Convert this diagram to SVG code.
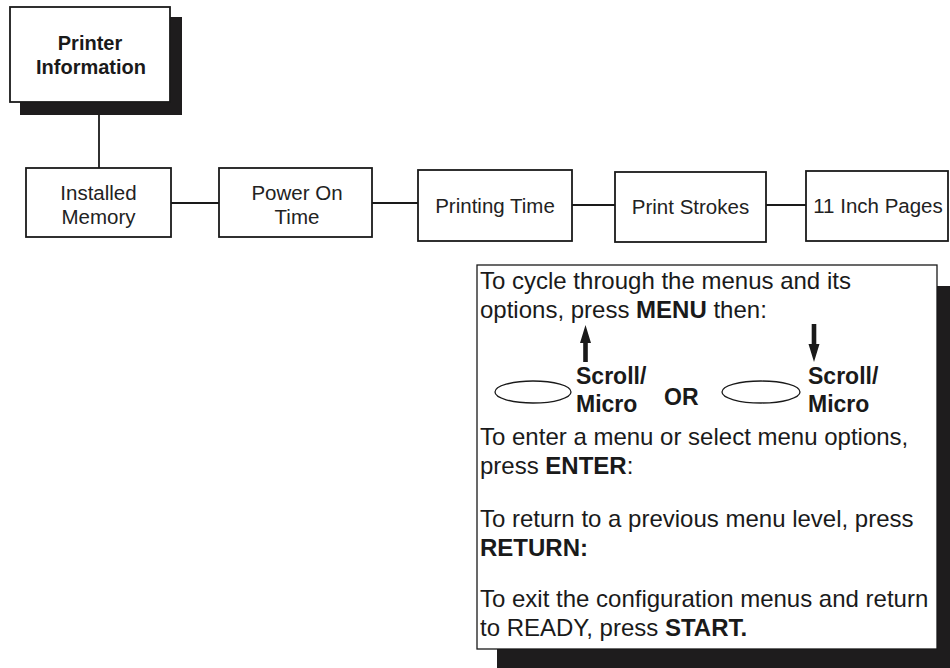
<svg xmlns="http://www.w3.org/2000/svg" width="950" height="668" viewBox="0 0 950 668">
<style>
.box{fill:#fff;stroke:#1a1a1a;stroke-width:1.8}
.shadow{fill:#1e1c1d}
.conn{stroke:#1a1a1a;stroke-width:1.8;fill:none}
.lbl{font-family:"Liberation Sans",Arial,sans-serif;font-size:20.5px;fill:#222;text-anchor:middle}
.title{font-family:"Liberation Sans",Arial,sans-serif;font-size:20px;font-weight:bold;fill:#1a1a1a;text-anchor:middle}
.info{font-family:"Liberation Sans",Arial,sans-serif;font-size:24px;fill:#1a1a1a}
.b{font-weight:bold}
.key{font-family:"Liberation Sans",Arial,sans-serif;font-size:23px;font-weight:bold;fill:#1a1a1a}
.arrow{fill:#1a1a1a}
</style>
<rect width="950" height="668" fill="#fff"/>
<g id="connectors">
<line class="conn" x1="99" y1="115" x2="99" y2="168"/>
<line class="conn" x1="171" y1="203" x2="219" y2="203"/>
<line class="conn" x1="372" y1="203" x2="418" y2="203"/>
<line class="conn" x1="572" y1="205" x2="615" y2="205"/>
<line class="conn" x1="766" y1="205" x2="806" y2="205"/>
</g>
<g id="printer-information">
<rect class="shadow" x="20" y="17" width="162" height="98"/>
<rect class="box" x="10" y="7" width="160" height="95"/>
<text class="title" x="90" y="50">Printer</text>
<text class="title" x="91" y="74">Information</text>
</g>
<g id="installed-memory">
<rect class="box" x="26" y="168" width="145" height="69"/>
<text class="lbl" x="98.5" y="200">Installed</text>
<text class="lbl" x="98.5" y="224">Memory</text>
</g>
<g id="power-on-time">
<rect class="box" x="219" y="168" width="153" height="69"/>
<text class="lbl" x="297" y="200">Power On</text>
<text class="lbl" x="297" y="224">Time</text>
</g>
<g id="printing-time">
<rect class="box" x="418" y="170" width="154" height="71"/>
<text class="lbl" x="495" y="213">Printing Time</text>
</g>
<g id="print-strokes">
<rect class="box" x="615" y="172" width="151" height="70"/>
<text class="lbl" x="690.5" y="214">Print Strokes</text>
</g>
<g id="inch-pages">
<rect class="box" x="806" y="171" width="142" height="70"/>
<text class="lbl" x="878" y="213">11 Inch Pages</text>
</g>
<g id="instructions">
<rect class="shadow" x="497" y="286" width="453" height="382"/>
<rect x="477" y="265" width="460" height="384" fill="#fff" stroke="#1a1a1a" stroke-width="1.3"/>
<text class="info" x="480" y="289">To cycle through the menus and its</text>
<text class="info" x="480" y="318">options, press <tspan class="b">MENU</tspan> then:</text>
<path class="arrow" d="M585.5 325 L591 343 L587.8 343 L587.8 362 L583.2 362 L583.2 343 L580 343 Z"/>
<ellipse cx="533" cy="392" rx="38" ry="11" fill="none" stroke="#1a1a1a" stroke-width="1.3"/>
<text class="key" x="576" y="384">Scroll/</text>
<text class="key" x="576" y="412">Micro</text>
<text class="key" x="664" y="405">OR</text>
<path class="arrow" d="M814 362 L819.5 344 L816.3 344 L816.3 324 L811.7 324 L811.7 344 L808.5 344 Z"/>
<ellipse cx="761" cy="392" rx="39" ry="11" fill="none" stroke="#1a1a1a" stroke-width="1.3"/>
<text class="key" x="808" y="384">Scroll/</text>
<text class="key" x="808" y="412">Micro</text>
<text class="info" x="480" y="445">To enter a menu or select menu options,</text>
<text class="info" x="480" y="474">press <tspan class="b">ENTER</tspan>:</text>
<text class="info" x="480" y="527">To return to a previous menu level, press</text>
<text class="info" x="480" y="556"><tspan class="b">RETURN:</tspan></text>
<text class="info" x="480" y="607">To exit the configuration menus and return</text>
<text class="info" x="480" y="636">to READY, press <tspan class="b">START.</tspan></text>
</g>
</svg>
